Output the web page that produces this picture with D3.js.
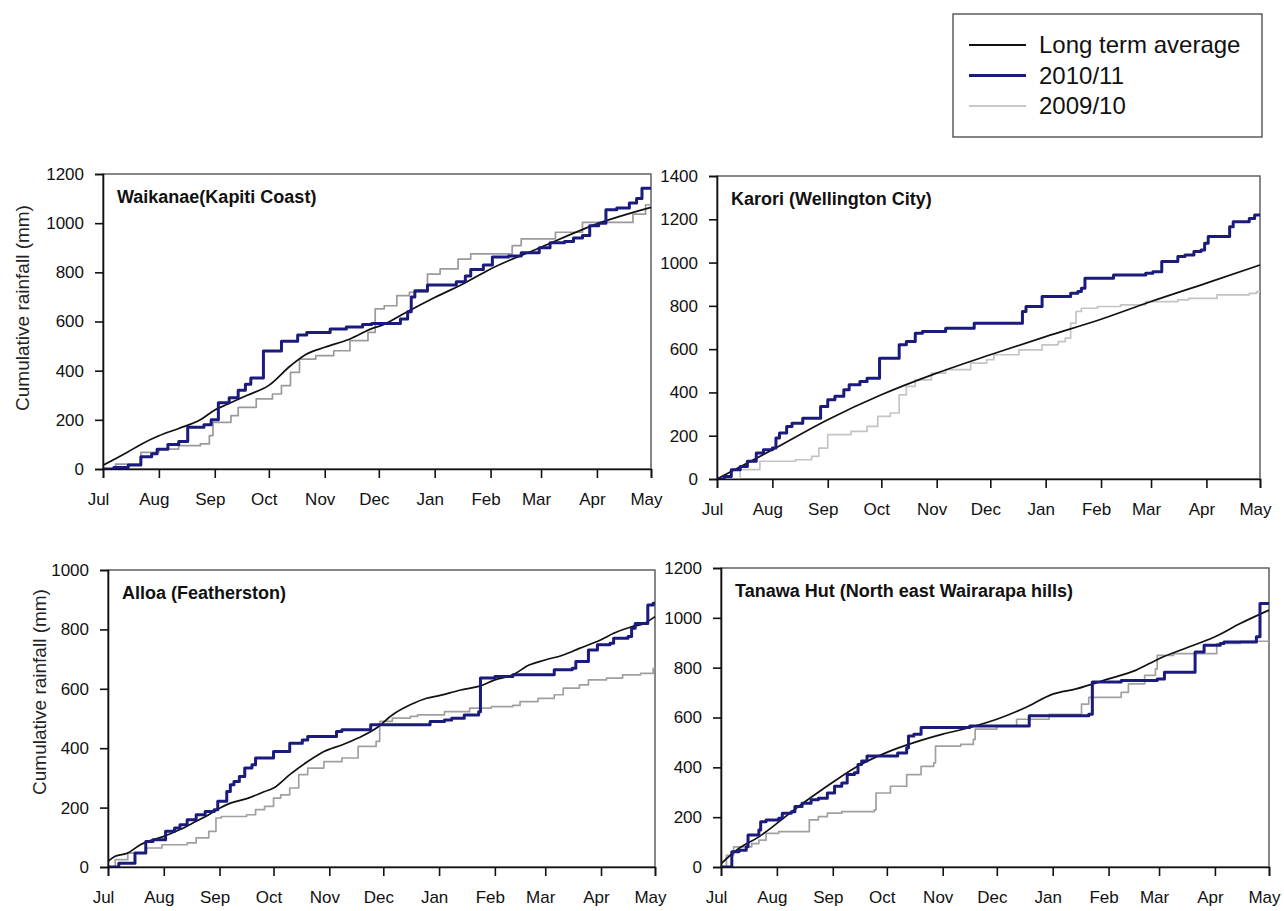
<!DOCTYPE html>
<html>
<head>
<meta charset="utf-8">
<script src="https://cdn.jsdelivr.net/npm/d3@7/dist/d3.min.js"></script>
<style>
  html, body { margin: 0; padding: 0; background: #fff; }
  svg { display: block; font-family: "Liberation Sans", Arial, sans-serif; }
</style>
</head>
<body>
<svg id="chart" width="1284" height="911"></svg>
<script>
// ---------- DATA (day offset from 1 July, cumulative rainfall mm) ----------
const monthLabels = ["Jul","Aug","Sep","Oct","Nov","Dec","Jan","Feb","Mar","Apr","May"];
const seriesNames = ["Long term average", "2010/11", "2009/10"];
const panelTitles = ["Waikanae(Kapiti Coast)", "Karori (Wellington City)", "Alloa (Featherston)", "Tanawa Hut (North east Wairarapa hills)"];
const yMaxes = [1200, 1400, 1000, 1200];

const waikanaeAvg = [[0,15],[14,70],[21,100],[31,135],[42,165],[54,200],[62,240],[68,260],[80,300],[92,340],[104,420],[113,468],[123,495],[137,529],[151,576],[153,580],[168,637],[184,698],[198,746],[215,814],[243,902],[274,997],[304,1064]];
const waikanae1011 = [[0,0],[6,6],[14,16],[21,50],[27,62],[30,80],[36,100],[42,112],[47,170],[56,180],[60,200],[64,270],[70,290],[75,320],[79,345],[82,370],[89,480],[99,520],[108,545],[113,555],[126,570],[135,578],[144,588],[149,592],[165,610],[169,640],[171,700],[173,725],[180,748],[196,762],[201,785],[204,812],[211,830],[216,862],[225,866],[232,880],[242,900],[248,920],[256,925],[261,940],[266,950],[270,990],[275,1000],[279,1055],[285,1062],[292,1082],[296,1100],[299,1142],[304,1142]];
const waikanae0910 = [[0,0],[7,20],[21,68],[31,81],[42,95],[54,102],[59,136],[61,190],[71,217],[75,251],[85,285],[94,305],[99,339],[104,393],[109,447],[118,461],[128,481],[137,522],[147,556],[151,651],[156,664],[163,705],[170,719],[180,793],[187,814],[197,854],[204,875],[227,909],[232,936],[251,963],[266,1003],[294,1037],[301,1075],[304,1075]];

const karoriAvg = [[0,0],[31,135],[62,274],[92,389],[123,489],[153,574],[184,658],[215,738],[243,820],[274,905],[304,989]];
const karori1011 = [[0,0],[4,12],[8,43],[13,58],[17,82],[22,120],[26,135],[31,143],[33,189],[35,212],[39,243],[42,258],[48,281],[58,335],[62,366],[66,382],[71,412],[74,435],[80,451],[84,466],[91,558],[102,620],[106,635],[111,674],[115,682],[128,697],[144,720],[171,774],[173,797],[182,843],[198,858],[202,866],[204,881],[206,928],[222,943],[240,951],[244,958],[249,1005],[258,1028],[262,1035],[267,1051],[271,1058],[273,1089],[275,1120],[287,1166],[289,1189],[298,1204],[301,1220],[304,1220]];
const karori0910 = [[0,0],[13,43],[24,82],[44,89],[53,105],[57,143],[62,205],[75,220],[84,243],[90,289],[97,305],[102,389],[106,428],[111,458],[120,489],[128,505],[142,535],[151,551],[155,574],[169,597],[182,620],[191,635],[195,651],[198,720],[201,774],[204,789],[213,797],[226,805],[240,820],[258,828],[264,835],[280,851],[298,858],[302,866],[304,866]];

const alloaAvg = [[0,19],[4,36],[11,47],[18,75],[25,92],[31,103],[40,126],[49,154],[56,176],[62,198],[68,215],[78,232],[87,254],[92,266],[101,311],[111,355],[120,389],[130,411],[139,434],[149,467],[158,512],[168,546],[177,568],[184,577],[196,596],[206,608],[215,630],[225,647],[234,680],[243,697],[253,714],[262,736],[274,765],[281,787],[291,809],[298,820],[304,843]];
const alloa1011 = [[0,0],[6,13],[15,47],[21,86],[25,92],[32,120],[37,131],[40,142],[44,159],[49,176],[54,187],[59,193],[61,221],[66,254],[68,277],[70,288],[73,305],[76,333],[80,344],[82,367],[92,389],[101,417],[108,428],[111,439],[127,456],[130,462],[146,479],[179,490],[187,495],[191,501],[198,512],[206,523],[207,636],[215,641],[225,647],[248,664],[258,669],[260,692],[267,731],[272,748],[279,753],[281,770],[289,776],[291,804],[293,820],[300,882],[303,888],[304,888]];
const alloa0910 = [[0,0],[4,25],[11,47],[21,64],[30,75],[44,81],[49,98],[56,120],[60,165],[63,170],[77,176],[82,193],[87,204],[92,232],[96,243],[101,266],[106,311],[111,333],[120,355],[130,367],[139,406],[149,423],[151,490],[158,501],[168,507],[172,512],[187,523],[201,535],[213,540],[225,544],[229,557],[239,568],[248,580],[253,602],[262,613],[267,630],[277,636],[286,647],[296,652],[303,669],[304,669]];

const tanawaAvg = [[0,13],[10,75],[21,121],[31,175],[43,243],[54,300],[62,340],[76,405],[92,460],[107,499],[123,533],[138,560],[153,593],[169,640],[184,694],[197,715],[215,755],[230,789],[243,836],[257,876],[274,924],[288,977],[304,1031]];
const tanawa1011 = [[0,0],[4,0],[6,61],[10,67],[14,81],[15,128],[21,148],[22,182],[25,189],[32,196],[34,216],[39,222],[41,243],[45,256],[50,270],[54,276],[59,297],[63,324],[67,337],[70,371],[74,378],[76,411],[78,425],[81,445],[98,458],[103,479],[104,526],[107,533],[111,560],[138,566],[171,607],[204,613],[206,742],[222,748],[242,755],[246,782],[263,863],[268,890],[277,897],[279,903],[297,924],[299,1058],[304,1058]];
const tanawa0910 = [[0,0],[3,47],[7,81],[17,94],[21,108],[25,135],[32,142],[47,142],[49,189],[54,202],[59,216],[67,222],[85,229],[86,297],[94,324],[103,371],[111,404],[118,418],[119,485],[133,492],[140,512],[141,553],[153,566],[164,593],[182,613],[200,654],[204,681],[222,701],[226,735],[235,769],[241,795],[242,849],[251,856],[275,897],[288,906],[304,906]];

// ---------- LAYOUT ----------
const layout = [
  { left: 103, right: 651, top: 174, bottom: 469, yLabel: { x: 22, y: 308 } },
  { left: 717, right: 1260, top: 176, bottom: 479, yLabel: null },
  { left: 108, right: 655, top: 570, bottom: 867, yLabel: { x: 39, y: 692 } },
  { left: 721, right: 1269, top: 568, bottom: 867, yLabel: null }
];
const panelData = [
  [waikanaeAvg, waikanae1011, waikanae0910],
  [karoriAvg, karori1011, karori0910],
  [alloaAvg, alloa1011, alloa0910],
  [tanawaAvg, tanawa1011, tanawa0910]
];
const styles = [
  { color: "#111111", width: 1.7, curve: d3.curveMonotoneX },
  { color: "#1b1b7e", width: 3, curve: d3.curveStepAfter },
  { color: "#a8a8a8", width: 1.7, curve: d3.curveStepAfter }
];
const grayByPanel = ["#9a9a9a", "#c4c4c4", "#a0a0a0", "#a0a0a0"];

const seasonStart = new Date(2010, 6, 1);
const seasonEnd = new Date(2011, 4, 1);
const toDate = d => new Date(seasonStart.getTime() + d * 86400000);

const svg = d3.select("#chart");

layout.forEach((L, i) => {
  const g = svg.append("g");
  const x = d3.scaleTime().domain([seasonStart, seasonEnd]).range([L.left, L.right]);
  const y = d3.scaleLinear().domain([0, yMaxes[i]]).range([L.bottom, L.top]);

  const clipId = "clip" + i;
  svg.append("clipPath").attr("id", clipId).append("rect")
    .attr("x", L.left).attr("y", L.top - 2)
    .attr("width", L.right - L.left + 2).attr("height", L.bottom - L.top + 2);

  // frame
  g.append("rect")
    .attr("x", L.left).attr("y", L.top)
    .attr("width", L.right - L.left).attr("height", L.bottom - L.top)
    .attr("fill", "none").attr("stroke", "#555").attr("stroke-width", 1.4);

  // series: draw gray, then black, then navy
  const lines = g.append("g").attr("clip-path", `url(#${clipId})`);
  [2, 0, 1].forEach(s => {
    const st = styles[s];
    const line = d3.line()
      .x(d => x(toDate(d[0])))
      .y(d => y(d[1]))
      .curve(st.curve);
    lines.append("path")
      .datum(panelData[i][s])
      .attr("fill", "none")
      .attr("stroke", s === 2 ? grayByPanel[i] : st.color)
      .attr("stroke-width", st.width)
      .attr("stroke-linejoin", "round")
      .attr("d", line);
  });

  // axes
  const yAxis = d3.axisLeft(y)
    .tickValues(d3.range(0, yMaxes[i] + 1, 200))
    .tickSize(8).tickPadding(11)
    .tickFormat(d3.format("d"));
  const ya = g.append("g").attr("transform", `translate(${L.left},0)`).call(yAxis);

  const months = x.ticks(d3.timeMonth.every(1));
  const xAxis = d3.axisBottom(x)
    .tickValues(months)
    .tickSize(9).tickPadding(15)
    .tickFormat((d, k) => monthLabels[k]);
  const xa = g.append("g").attr("transform", `translate(0,${L.bottom})`).call(xAxis);

  [ya, xa].forEach(a => {
    a.select(".domain").attr("stroke", "#111").attr("stroke-width", 1.6);
    a.selectAll(".tick line").attr("stroke", "#111").attr("stroke-width", 1.6);
    a.selectAll(".tick text")
      .attr("fill", "#111")
      .style("font-size", "17px")
      .style("font-family", '"Liberation Sans", Arial, sans-serif');
  });
  xa.selectAll(".tick text").attr("dx", -5);

  // title
  g.append("text")
    .attr("x", L.left + 14).attr("y", L.top + 29)
    .attr("fill", "#111")
    .style("font-size", "18px").style("font-weight", "bold")
    .text(panelTitles[i]);

  if (L.yLabel) {
    g.append("text")
      .attr("transform", `translate(${L.yLabel.x},${L.yLabel.y}) rotate(-90)`)
      .attr("text-anchor", "middle").attr("dy", "0.35em")
      .attr("fill", "#222")
      .style("font-size", "19px")
      .text("Cumulative rainfall (mm)");
  }
});

// ---------- LEGEND ----------
const leg = svg.append("g");
leg.append("rect")
  .attr("x", 953).attr("y", 14).attr("width", 309).attr("height", 123)
  .attr("fill", "#fff").attr("stroke", "#444").attr("stroke-width", 1.3);
const legendGray = "#c8c8c8";
seriesNames.forEach((name, k) => {
  const yy = 45 + k * 30.5;
  leg.append("line")
    .attr("x1", 969).attr("x2", 1026).attr("y1", yy).attr("y2", yy)
    .attr("stroke", k === 2 ? legendGray : styles[k].color)
    .attr("stroke-width", k === 1 ? 3 : 2);
  leg.append("text")
    .attr("x", 1039).attr("y", yy).attr("dy", "0.35em")
    .attr("fill", "#111")
    .style("font-size", "24px")
    .text(name);
});
</script>
</body>
</html>
